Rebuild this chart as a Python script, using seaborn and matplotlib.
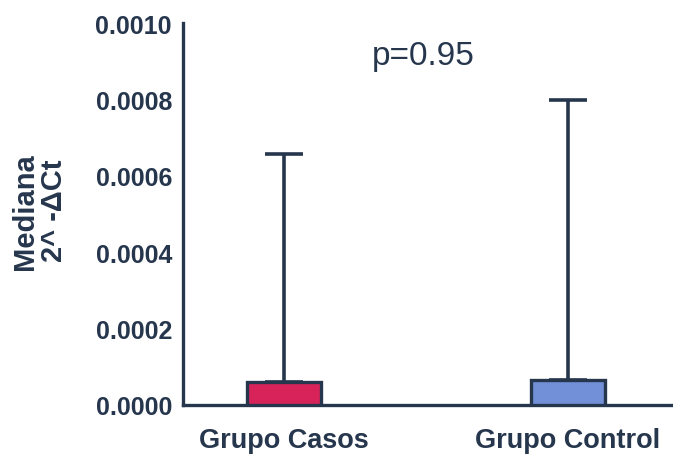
import pandas as pd
import seaborn as sns
import matplotlib.pyplot as plt

groups = ["Grupo Casos", "Grupo Control"]
medians = [0.00006, 0.000065]
upper = [0.000657, 0.000798]
bar_colors = ["#d8235a", "#7190d8"]
y_ticks = [0.0, 0.0002, 0.0004, 0.0006, 0.0008, 0.0010]

if __name__ == '__main__':
    ink = "#26364d"
    sns.set_style("white")
    plt.rcParams['font.family'] = ['Liberation Sans', 'DejaVu Sans']

    data = pd.DataFrame({"grupo": groups, "mediana": medians, "upper": upper})

    figure = plt.figure(figsize=(6.73, 4.64), dpi=100)
    axis = figure.add_axes([0.272, 0.125, 0.728, 0.823])

    sns.barplot(x="grupo", y="mediana", data=data, hue="grupo",
                palette=dict(zip(groups, bar_colors)), width=0.26, saturation=1,
                edgecolor=ink, linewidth=2.4, legend=False, ax=axis, zorder=3)

    axis.errorbar(x=range(len(groups)), y=data["mediana"],
                  yerr=[[0] * len(groups), data["upper"] - data["mediana"]],
                  fmt="none", ecolor=ink, elinewidth=2.6, capsize=14,
                  capthick=2.6, zorder=2)

    axis.set_xlim(-0.356, 1.37)
    axis.set_ylim(0, 0.001)
    axis.set_yticks(y_ticks)
    axis.set_yticklabels([f"{v:.4f}" for v in y_ticks])
    axis.tick_params(axis="y", direction="out", length=6, width=2, color=ink,
                     labelsize=18, labelcolor=ink, pad=2)
    axis.tick_params(axis="x", length=0, labelsize=19.5, labelcolor=ink, pad=16)
    for label in axis.get_xticklabels() + axis.get_yticklabels():
        label.set_fontweight("bold")

    sns.despine(ax=axis)
    for side in ["left", "bottom"]:
        axis.spines[side].set_color(ink)
        axis.spines[side].set_linewidth(2.4)

    axis.set_xlabel("")
    axis.set_ylabel("Mediana\n2^ -ΔCt", fontsize=21, fontweight="bold",
                    color=ink, linespacing=1.05)
    axis.yaxis.set_label_coords(-0.235, 0.51)

    axis.text(0.49, 0.000915, "p=0.95", fontsize=24, color=ink,
              ha="center", va="center")

    figure.savefig("out.png", dpi=100)
